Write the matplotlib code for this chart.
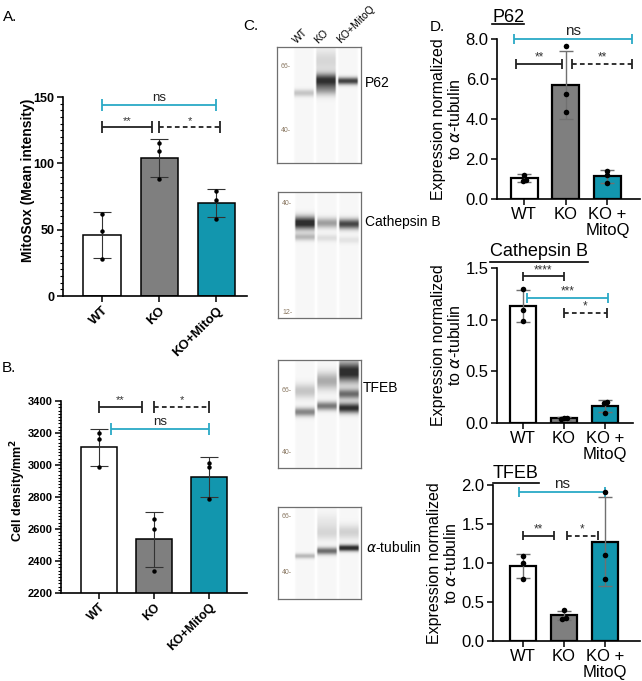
import numpy as np
import matplotlib
matplotlib.use('Agg')
import matplotlib.pyplot as plt
from matplotlib.lines import Line2D
from matplotlib.ticker import MultipleLocator, FormatStrFormatter

plt.rcParams['font.family'] = ['Liberation Sans', 'DejaVu Sans']

FIG_W, FIG_H = 642, 681

# ---------------- data ----------------
GROUPS = ['WT', 'KO', 'KO+MitoQ']
GROUPS_D = ['WT', 'KO', 'KO +\nMitoQ']
BAR_COLORS = ['#ffffff', '#7f7f7f', '#1296ae']
SIG_BLACK = '#222222'
SIG_CYAN = '#2aa9c6'

A_MEAN = [46, 104, 70]
A_SD = [17, 14, 10.5]
A_POINTS = [[62, 49, 28], [115, 109, 88], [79, 72, 58]]
A_YTICKS = [0, 50, 100, 150]
A_SIG = [(0, 2.0, 144, 'ns', 'cyan'), (0, 0.87, 127.5, '**', 'solid'),
         (1.0, 2.07, 127.5, '*', 'dashed')]

B_MEAN = [3110, 2535, 2925]
B_SD = [115, 172, 125]
B_POINTS = [[3200, 3160, 2985], [2665, 2600, 2340], [3010, 2985, 2785]]
B_YTICKS = [2200, 2400, 2600, 2800, 3000, 3200, 3400]
B_SIG = [(0, 0.78, 3362, '**', 'solid'), (1.0, 2.0, 3362, '*', 'dashed'),
         (0.22, 2.0, 3225, 'ns', 'cyan')]

P62_MEAN = [1.03, 5.72, 1.13]
P62_SD = [0.2, 1.7, 0.32]
P62_POINTS = [[1.22, 0.95, 0.92], [7.63, 5.23, 4.33], [1.42, 1.18, 0.82]]
P62_YTICKS = [0, 2, 4, 6, 8]
P62_SIG = [(-0.24, 2.59, 8.0, 'ns', 'cyan'), (-0.19, 0.91, 6.75, '**', 'solid'),
           (1.15, 2.59, 6.75, '**', 'dashed')]

CATB_MEAN = [1.13, 0.045, 0.165]
CATB_SD = [0.155, 0.012, 0.055]
CATB_POINTS = [[1.30, 1.09, 0.99], [0.05, 0.045, 0.04], [0.2, 0.19, 0.1]]
CATB_YTICKS = [0, 0.5, 1.0, 1.5]
CATB_SIG = [(0, 1.0, 1.42, '****', 'solid'), (0.1, 2.07, 1.21, '***', 'cyan'),
            (1.0, 2.05, 1.065, '*', 'dashed')]

TFEB_MEAN = [0.96, 0.33, 1.27]
TFEB_SD = [0.15, 0.06, 0.57]
TFEB_POINTS = [[1.09, 1.0, 0.8], [0.4, 0.29, 0.28], [1.91, 1.1, 0.8]]
TFEB_YTICKS = [0, 0.5, 1.0, 1.5, 2.0]
TFEB_SIG = [(-0.1, 2.0, 1.91, 'ns', 'cyan'), (0, 0.76, 1.35, '**', 'solid'),
            (1.07, 1.83, 1.35, '*', 'dashed')]

# capillary blots: band lane, position (px from box top), width, intensity
BLOT_LANES = ['WT', 'KO', 'KO+MitoQ']
P62_BAND_LANE = [0, 1, 1, 1, 2]
P62_BAND_POS = [46, 33, 42, 14, 34]
P62_BAND_SIG = [2.5, 4.5, 4.5, 8, 2.5]
P62_BAND_INT = [0.2, 0.75, 0.35, 0.13, 0.72]
P62_MARKERS = [('66', 19), ('40', 84)]

CTSB_BAND_LANE = [0, 0, 1, 1, 2, 2]
CTSB_BAND_POS = [31, 45, 31, 46, 32, 48]
CTSB_BAND_SIG = [4.5, 2.5, 3.5, 2.5, 3.5, 2.5]
CTSB_BAND_INT = [0.85, 0.25, 0.35, 0.1, 0.7, 0.08]
CTSB_MARKERS = [('40', 11), ('12', 120)]

TFEB_BAND_LANE = [0, 0, 1, 1, 2, 2, 2]
TFEB_BAND_POS = [31, 52, 21, 46, 12, 34, 48]
TFEB_BAND_SIG = [5, 3, 6, 3, 7, 3.5, 3.5]
TFEB_BAND_INT = [0.2, 0.45, 0.3, 0.5, 0.85, 0.55, 0.8]
TFEB_MARKERS = [('66', 30), ('40', 92)]

TUB_BAND_LANE = [0, 1, 1, 1, 2, 2]
TUB_BAND_POS = [49, 44, 26, 15, 41, 25]
TUB_BAND_SIG = [1.8, 2.5, 5, 6, 2.2, 5]
TUB_BAND_INT = [0.25, 0.55, 0.12, 0.06, 0.85, 0.15]
TUB_MARKERS = [('66', 10), ('40', 66)]

# ---------------- helpers ----------------
fig = plt.figure(figsize=(FIG_W / 100, FIG_H / 100), dpi=100)


def ax_px(l, t, r, b):
    return fig.add_axes([l / FIG_W, 1 - b / FIG_H, (r - l) / FIG_W, (b - t) / FIG_H])


def fxy(x, y):
    return (x / FIG_W, 1 - y / FIG_H)


def jitter(vals, span, tol=0.015, step=0.075):
    vals = np.asarray(vals, float)
    off = np.zeros(len(vals))
    order = np.argsort(vals)
    groups, cur = [], [order[0]]
    for i in order[1:]:
        if abs(vals[i] - vals[cur[-1]]) < tol * span:
            cur.append(i)
        else:
            groups.append(cur)
            cur = [i]
    groups.append(cur)
    for g in groups:
        n = len(g)
        if n > 1:
            for k, idx in enumerate(g):
                off[idx] = (k - (n - 1) / 2) * step
    return off


def bar_panel(ax, means, sd, points, ylim, yticks, st):
    x = np.arange(len(means))
    ax.bar(x, means, width=0.65, color=BAR_COLORS, edgecolor='black',
           linewidth=st['blw'], zorder=2)
    ax.errorbar(x, means, yerr=sd, fmt='none', ecolor=st['ecol'],
                elinewidth=st['elw'], capsize=st['cap'], capthick=st['elw'], zorder=3)
    span = ylim[1] - ylim[0]
    for i, pts in enumerate(points):
        off = jitter(pts, span)
        ax.plot(i + off, pts, 'o', ms=st['ms'], color='black', mec='none',
                zorder=4, clip_on=False)
    ax.set_ylim(ylim)
    ax.set_yticks(yticks)
    ax.set_xticks(x)
    for s in ['top', 'right']:
        ax.spines[s].set_visible(False)
    for s in ['left', 'bottom']:
        ax.spines[s].set_linewidth(st['slw'])
    ax.set_facecolor('none')


def draw_sig(ax, sigs, span, lw, fs_star, fs_ns, caph, star_dy, ns_dy):
    for x1, x2, y, lab, kind in sigs:
        col = SIG_CYAN if kind == 'cyan' else SIG_BLACK
        ls = (0, (2.6, 1.8)) if kind == 'dashed' else '-'
        h = caph * span
        ax.plot([x1, x2], [y, y], color=col, lw=lw, ls=ls, clip_on=False,
                solid_capstyle='butt', dash_capstyle='butt')
        for xx in (x1, x2):
            ax.plot([xx, xx], [y - h, y + h], color=col, lw=lw, clip_on=False,
                    solid_capstyle='butt')
        if lab == 'ns':
            ax.text((x1 + x2) / 2, y + ns_dy * span, lab, ha='center', va='bottom',
                    fontsize=fs_ns, color='#222222', clip_on=False)
        else:
            ax.text((x1 + x2) / 2, y + star_dy * span, lab, ha='center', va='center',
                    fontsize=fs_star, color='#333333', clip_on=False)


# ---------------- panel A ----------------
stAB = dict(blw=1.1, ecol='#333333', elw=0.8, cap=6.5, ms=3.2, slw=1.2)
axA = ax_px(63, 97, 247, 296)
bar_panel(axA, A_MEAN, A_SD, A_POINTS, (0, 150), A_YTICKS, stAB)
axA.set_xlim(-0.684, 2.54)
axA.yaxis.set_minor_locator(MultipleLocator(5))
axA.tick_params(axis='both', which='major', length=4, width=1.1, labelsize=9, pad=2)
axA.tick_params(axis='y', which='minor', length=2, width=0.8)
axA.set_xticklabels(GROUPS, rotation=45, ha='right', va='top', rotation_mode='anchor',
                    fontweight='bold', fontsize=9.5)
for t in axA.get_yticklabels():
    t.set_fontweight('bold')
draw_sig(axA, A_SIG, 150, 1.3, 8, 9.5, 0.03, 0.03, 0.005)
fig.text(*fxy(28, 180), 'MitoSox (Mean intensity)', rotation=90, ha='center',
         va='center', fontsize=10, fontweight='bold')

# ---------------- panel B ----------------
axB = ax_px(61, 401, 247, 593)
bar_panel(axB, B_MEAN, B_SD, B_POINTS, (2200, 3400), B_YTICKS, stAB)
axB.set_xlim(-0.69, 2.69)
axB.yaxis.set_minor_locator(MultipleLocator(20))
axB.tick_params(axis='both', which='major', length=4, width=1.1, labelsize=8, pad=2)
axB.tick_params(axis='y', which='minor', length=2, width=0.8)
axB.set_xticklabels(GROUPS, rotation=45, ha='right', va='top', rotation_mode='anchor',
                    fontweight='bold', fontsize=9)
for t in axB.get_yticklabels():
    t.set_fontweight('bold')
draw_sig(axB, B_SIG, 1200, 1.3, 8, 9.5, 0.03, 0.035, 0.005)
fig.text(*fxy(18, 490), 'Cell density/mm$^\\mathbf{2}$', rotation=90, ha='center',
         va='center', fontsize=9, fontweight='bold')

# ---------------- panel D ----------------
stD = dict(blw=1.6, ecol='#707070', elw=1.0, cap=5, ms=4, slw=1.2)
D_SPECS = [
    ((497, 39, 640, 199), (-0.65, 2.78), P62_MEAN, P62_SD, P62_POINTS, (0, 8),
     P62_YTICKS, P62_SIG, 'P62', (492, 17.5), 24, 447),
    ((497, 268, 633, 423), (-0.63, 2.68), CATB_MEAN, CATB_SD, CATB_POINTS, (0, 1.5),
     CATB_YTICKS, CATB_SIG, 'Cathepsin B', (490, 252), 262, 447),
    ((493, 485, 640, 641), (-0.73, 2.85), TFEB_MEAN, TFEB_SD, TFEB_POINTS, (0, 2.0),
     TFEB_YTICKS, TFEB_SIG, 'TFEB', (493, 473), 483, 443),
]
renderer = fig.canvas.get_renderer()
for (box, xl, mean, sd, pts, yl, yt, sig, title, tpos, uy, lx) in D_SPECS:
    ax = ax_px(*box)
    bar_panel(ax, mean, sd, pts, yl, yt, stD)
    ax.set_xlim(xl)
    ax.yaxis.set_major_formatter(FormatStrFormatter('%.1f'))
    ax.tick_params(axis='both', which='major', length=4, width=1.1, labelsize=12, pad=2)
    ax.set_xticklabels(GROUPS_D, linespacing=1.05)
    span = yl[1] - yl[0]
    draw_sig(ax, sig, span, 1.3, 8.5, 11, 0.03, 0.04, 0.005)
    l, t, r, b = box
    fig.text(*fxy(lx, (t + b) / 2), 'Expression normalized\nto $\\alpha$-tubulin',
             rotation=90, ha='center', va='center', fontsize=11.5, linespacing=1.12)
    tt = fig.text(*fxy(*tpos), title, ha='left', va='center', fontsize=13)
    ext = tt.get_window_extent(renderer)
    x0, x1 = ext.x0 / FIG_W, ext.x1 / FIG_W
    fig.add_artist(Line2D([x0, x1], [1 - uy / FIG_H] * 2, color='black', lw=1.2,
                          transform=fig.transFigure))


# ---------------- panel C (blots) ----------------
LANE_X = [27, 49, 71]
LANE_HALF = 10.5


def draw_blot(box, lanes, pos, sig, inten, markers, label, lpos, lane_labels=False):
    l, t, r, b = box
    wb, hb = r - l, b - t
    ax = ax_px(l, t, r, b)
    res = 4
    ys = (np.arange(hb * res) + 0.5) / res
    xs = (np.arange(wb * res) + 0.5) / res
    img = np.ones((len(ys), len(xs)))
    for li, c in enumerate(LANE_X):
        prof = np.clip((LANE_HALF - np.abs(xs - c)) / 1.5, 0, 1)
        dens = np.full(len(ys), 0.03)
        for ln, p, s, a in zip(lanes, pos, sig, inten):
            if ln == li:
                dens += a * np.exp(-0.5 * ((ys - p) / s) ** 2)
        dens = np.clip(dens, 0, 0.82)
        img -= np.outer(dens, prof)
    ax.imshow(img, cmap='gray', vmin=0, vmax=1, extent=(0, wb, hb, 0),
              aspect='auto', interpolation='bilinear')
    ax.set_xlim(0, wb)
    ax.set_ylim(hb, 0)
    ax.set_xticks([])
    ax.set_yticks([])
    for s in ax.spines.values():
        s.set_color('#6f6f6f')
        s.set_linewidth(0.9)
    for lab, yy in markers:
        ax.text(4, yy, lab + '-', fontsize=5, color='#8a7862', ha='left', va='center')
    fig.text(*fxy(*lpos), label, fontsize=10, ha='left', va='center')
    if lane_labels:
        for c, lab in zip(LANE_X, BLOT_LANES):
            fig.text(*fxy(l + c - 6, t - 2), lab, rotation=45, rotation_mode='anchor',
                     ha='left', va='bottom', fontsize=7.5)


draw_blot((277, 47, 361, 163), P62_BAND_LANE, P62_BAND_POS, P62_BAND_SIG, P62_BAND_INT,
          P62_MARKERS, 'P62', (365, 83), lane_labels=True)
draw_blot((278, 192, 361, 318), CTSB_BAND_LANE, CTSB_BAND_POS, CTSB_BAND_SIG,
          CTSB_BAND_INT, CTSB_MARKERS, 'Cathepsin B', (365, 222))
draw_blot((278, 360, 361, 468), TFEB_BAND_LANE, TFEB_BAND_POS, TFEB_BAND_SIG,
          TFEB_BAND_INT, TFEB_MARKERS, 'TFEB', (363, 388))
draw_blot((278, 507, 361, 599), TUB_BAND_LANE, TUB_BAND_POS, TUB_BAND_SIG,
          TUB_BAND_INT, TUB_MARKERS, '$\\alpha$-tubulin', (366, 548))

# panel letters
for lab, (x, y) in [('A.', (3, 17)), ('B.', (2, 368)), ('C.', (243, 26)), ('D.', (430, 27))]:
    fig.text(*fxy(x, y), lab, fontsize=11, ha='left', va='center')

fig.savefig('out.png', dpi=100)
